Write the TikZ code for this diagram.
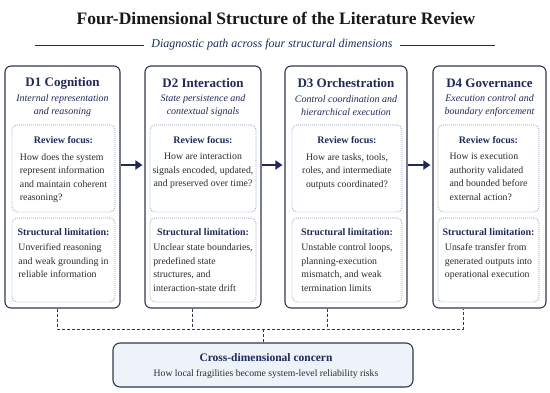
\documentclass[tikz,border=0pt]{standalone}
\usepackage{fontspec}
\setmainfont{Liberation Serif}
\usetikzlibrary{arrows.meta,positioning,calc}
\definecolor{navyink}{HTML}{1E2A5C}
\definecolor{frameink}{HTML}{2F3754}
\definecolor{dotink}{HTML}{8C9BC4}
\definecolor{bodyink}{HTML}{2B2B2B}
\definecolor{concernfill}{HTML}{EEF2F9}
\tikzset{
  dimbox/.style={draw=frameink,line width=1.1pt,rounded corners=6pt,fill=white,minimum height=242pt,inner sep=0pt},
  focusbox/.style={draw=dotink,line width=.8pt,dash pattern=on .8pt off 1.2pt,rounded corners=5pt,fill=white,minimum height=87pt,inner sep=0pt},
  limitbox/.style={draw=dotink,line width=.8pt,dash pattern=on .8pt off 1.2pt,rounded corners=5pt,fill=white,minimum height=84pt,inner sep=0pt},
  dimtitle/.style={font=\fontsize{13}{15}\selectfont\bfseries,text=navyink,inner sep=0pt},
  dimsub/.style={font=\fontsize{10}{13}\selectfont\itshape,text=navyink,align=center,inner sep=0pt},
  headtext/.style={font=\fontsize{10}{12}\selectfont\bfseries,text=navyink,inner sep=0pt},
  bodytext/.style={font=\fontsize{9.8}{13.5}\selectfont,text=bodyink,inner sep=0pt,align=left},
  flow/.style={-{Triangle[length=7pt,width=9pt]},line width=2.6pt,draw=navyink},
  bus/.style={line width=.9pt,draw=frameink,dash pattern=on 3pt off 2pt},
}

\begin{document}
\begin{tikzpicture}[x=1pt,y=1pt]
  \useasboundingbox (0,0) rectangle (550,-392);
  % heading
  \node[font=\fontsize{17.5}{20}\selectfont\bfseries,text=black!90] (title) at (276,-18) {Four-Dimensional Structure of the Literature Review};
  \node[font=\fontsize{12}{14}\selectfont\itshape,text=navyink,inner sep=7pt] (path) at (272,-45) {Diagnostic path across four structural dimensions};
  \coordinate (pl) at (35,-45);
  \coordinate (pr) at (495,-45);
  \draw[navyink,line width=.7pt] (pl) -- (path.west);
  \draw[navyink,line width=.7pt] (path.east) -- (pr);

  % D1
  \node[dimbox,minimum width=115pt] (d1) at (62.5,-187) {};
  \node[dimtitle] (d1t) at (62.5,-83) {D1 Cognition};
  \node[dimsub] (d1s) at (62.5,-105.5) {Internal representation\\and reasoning};
  \node[focusbox,minimum width=103pt] (f1) at (63.5,-168.5) {};
  \node[headtext,below=12pt of f1.north] (f1h) {Review focus:};
  \node[bodytext,below=9pt of f1h] (f1b) {How does the system\\represent information\\and maintain coherent\\reasoning?};
  \node[limitbox,minimum width=103pt] (l1) at (63.5,-260) {};
  \node[headtext,below=10.5pt of l1.north] (l1h) {Structural limitation:};
  \node[bodytext,below=8pt of l1h] (l1b) {Unverified reasoning\\and weak grounding in\\reliable information};

  % D2
  \node[dimbox,minimum width=116pt] (d2) at (203,-187) {};
  \node[dimtitle] (d2t) at (203,-83) {D2 Interaction};
  \node[dimsub] (d2s) at (203,-105.5) {State persistence and\\contextual signals};
  \node[focusbox,minimum width=106pt] (f2) at (203,-168.5) {};
  \node[headtext,below=12pt of f2.north] (f2h) {Review focus:};
  \node[bodytext,align=center,below=9pt of f2h] (f2b) {How are interaction\\signals encoded, updated,\\and preserved over time?};
  \node[limitbox,minimum width=106pt] (l2) at (203,-260) {};
  \node[headtext,below=10.5pt of l2.north] (l2h) {Structural limitation:};
  \node[bodytext,below=8pt of l2h] (l2b) {Unclear state boundaries,\\predefined state\\structures, and\\interaction-state drift};

  % D3
  \node[dimbox,minimum width=122pt] (d3) at (346,-187) {};
  \node[dimtitle] (d3t) at (346,-83) {D3 Orchestration};
  \node[dimsub] (d3s) at (346,-105.5) {Control coordination and\\hierarchical execution};
  \node[focusbox,minimum width=110pt] (f3) at (347,-168.5) {};
  \node[headtext,below=12pt of f3.north] (f3h) {Review focus:};
  \node[bodytext,align=center,below=9pt of f3h] (f3b) {How are tasks, tools,\\roles, and intermediate\\outputs coordinated?};
  \node[limitbox,minimum width=110pt] (l3) at (347,-260) {};
  \node[headtext,below=10.5pt of l3.north] (l3h) {Structural limitation:};
  \node[bodytext,below=8pt of l3h] (l3b) {Unstable control loops,\\planning-execution\\mismatch, and weak\\termination limits};

  % D4
  \node[dimbox,minimum width=113pt] (d4) at (489.5,-187) {};
  \node[dimtitle] (d4t) at (489.5,-83) {D4 Governance};
  \node[dimsub] (d4s) at (489.5,-105.5) {Execution control and\\boundary enforcement};
  \node[focusbox,minimum width=101pt] (f4) at (488.5,-168.5) {};
  \node[headtext,below=12pt of f4.north] (f4h) {Review focus:};
  \node[bodytext,below=9pt of f4h] (f4b) {How is execution\\authority validated\\and bounded before\\external action?};
  \node[limitbox,minimum width=101pt] (l4) at (488.5,-260) {};
  \node[headtext,below=10.5pt of l4.north] (l4h) {Structural limitation:};
  \node[bodytext,below=8pt of l4h] (l4b) {Unsafe transfer from\\generated outputs into\\operational execution};

  % diagnostic path
  \draw[flow] ([yshift=22pt]d1.east) -- ([yshift=22pt,xshift=-2pt]d2.west);
  \draw[flow] ([yshift=22pt]d2.east) -- ([yshift=22pt,xshift=-2pt]d3.west);
  \draw[flow] ([yshift=22pt]d3.east) -- ([yshift=22pt,xshift=-2pt]d4.west);

  % cross-dimensional concern
  \node[draw=frameink,fill=concernfill,line width=1.1pt,rounded corners=7pt,minimum width=300pt,minimum height=44pt] (cx) at (263,-365) {};
  \node[font=\fontsize{11.5}{13}\selectfont\bfseries,text=navyink,inner sep=0pt] (cxt) at (266,-358) {Cross-dimensional concern};
  \node[font=\fontsize{9.7}{11}\selectfont,text=bodyink,inner sep=0pt] (cxs) at (266,-374) {How local fragilities become system-level reliability risks};

  \coordinate (b1) at (57,-329);
  \coordinate (b2) at (192,-329);
  \coordinate (b3) at (327,-329);
  \coordinate (b4) at (463,-329);
  \draw[bus] (d1.south -| b1) -- (b1) -- (b4) -- (d4.south -| b4);
  \draw[bus] (d2.south -| b2) -- (b2);
  \draw[bus] (d3.south -| b3) -- (b3);
  \draw[bus] (cx.north |- b1) -- (cx.north);
\end{tikzpicture}
\end{document}
